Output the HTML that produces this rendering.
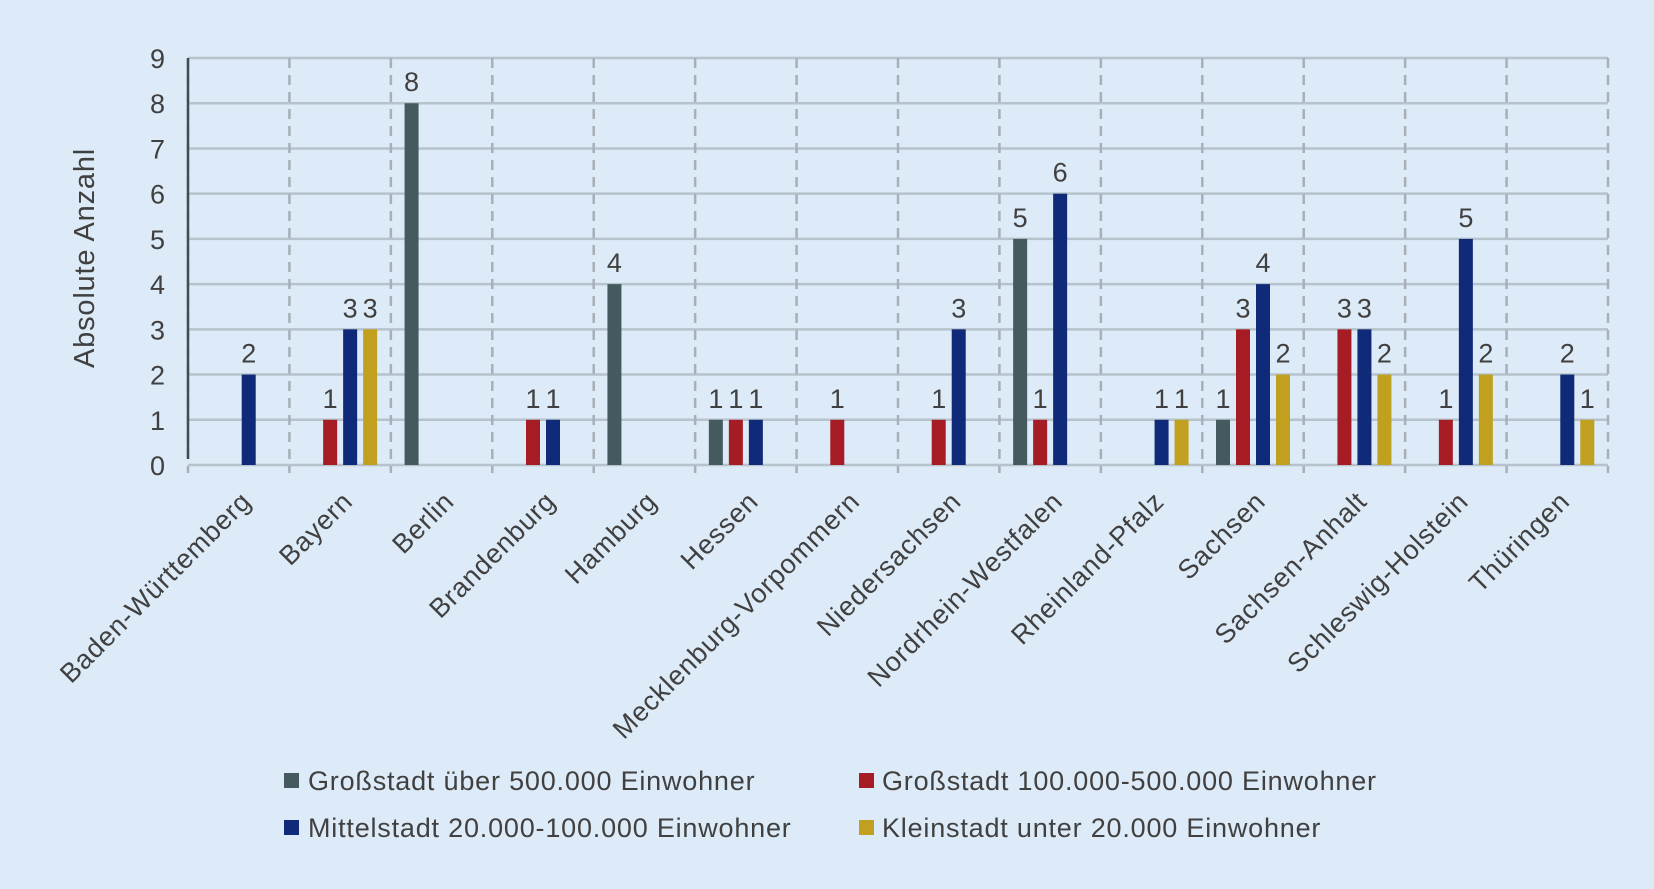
<!DOCTYPE html>
<html><head><meta charset="utf-8"><style>
html,body{margin:0;padding:0;background:#ddeaf7;}
svg{display:block;font-family:"Liberation Sans",sans-serif;}
</style></head><body>
<svg id="chart" width="1654" height="889" viewBox="0 0 1654 889" xmlns="http://www.w3.org/2000/svg">
<rect width="1654" height="889" fill="#ddeaf7"/>
<g id="grid"></g><g id="bars"></g><g id="labels"></g>
<text transform="translate(94,258) rotate(-90)" text-anchor="middle" font-size="29" letter-spacing="0.8" fill="#404040">Absolute Anzahl</text>
<g font-size="27" letter-spacing="0.8" fill="#404040">
<rect x="284" y="773" width="15" height="15" fill="#455a5f"/>
<text x="308" y="790">Großstadt über 500.000 Einwohner</text>
<rect x="859" y="773" width="15" height="15" fill="#a51c24"/>
<text x="882" y="790">Großstadt 100.000-500.000 Einwohner</text>
<rect x="284" y="820" width="15" height="15" fill="#0f2a78"/>
<text x="308" y="837">Mittelstadt 20.000-100.000 Einwohner</text>
<rect x="859" y="820" width="15" height="15" fill="#c0a01e"/>
<text x="882" y="837">Kleinstadt unter 20.000 Einwohner</text>
</g>
</svg>
<script>
const categories=["Baden-Württemberg","Bayern","Berlin","Brandenburg","Hamburg","Hessen","Mecklenburg-Vorpommern","Niedersachsen","Nordrhein-Westfalen","Rheinland-Pfalz","Sachsen","Sachsen-Anhalt","Schleswig-Holstein","Thüringen"];
const grossstadt500=[0,0,8,0,4,1,0,0,5,0,1,0,0,0];
const grossstadt100=[0,1,0,1,0,1,1,1,1,0,3,3,1,0];
const mittelstadt=[2,3,0,1,0,1,0,3,6,1,4,3,5,2];
const kleinstadt=[0,3,0,0,0,0,0,0,0,1,2,2,2,1];
const yTicks=[0,1,2,3,4,5,6,7,8,9];
const seriesNames=["grossstadt-500k","grossstadt-100k","mittelstadt","kleinstadt"];
const colors=["#455a5f","#a51c24","#0f2a78","#c0a01e"];
const NS="http://www.w3.org/2000/svg";
const L=188,R=1608,Y0=465,Y9=58,yMax=9;
const bw=(R-L)/categories.length;
function y(v){return Y0-(Y0-Y9)*v/yMax;}
function xc(i){return L+bw*(i+0.5);}
function mk(t,a,p){const e=document.createElementNS(NS,t);for(const k in a)e.setAttribute(k,a[k]);p.appendChild(e);return e;}
const grid=document.getElementById('grid'),bars=document.getElementById('bars'),labels=document.getElementById('labels');
yTicks.forEach(v=>{
  const g=mk('line',{x1:L,x2:R,y1:y(v),y2:y(v),stroke:'#b6c3cc','stroke-width':2.5},grid);
  
  
  const t=mk('text',{x:165,y:y(v)+10,'text-anchor':'end','font-size':27,fill:'#404040'},labels);
  t.textContent=v;
  
  
});
for(let i=0;i<=categories.length;i++){
  const x=L+bw*i;
  const d=mk('line',{x1:x,x2:x,y1:Y9,y2:Y0+8,stroke:'#a7b0b8','stroke-width':2.5,'stroke-dasharray':'10,7'},grid);
  
  
}
const ax=mk('line',{x1:L,x2:L,y1:Y9,y2:Y0-6,stroke:'#3d4f55','stroke-width':2.5},grid);


const series=[grossstadt500,grossstadt100,mittelstadt,kleinstadt];
categories.forEach((c,i)=>{
  series.forEach((s,j)=>{
    const v=s[i]; if(!v) return;
    const cx=xc(i)+(j-1.5)*20;
    const r=mk('rect',{x:cx-7,y:y(v),width:14,height:Y0-y(v),fill:colors[j]},bars);
    
    
    const t=mk('text',{x:cx,y:y(v)-12,'text-anchor':'middle','font-size':27,fill:'#404040'},labels);
    t.textContent=v;
    
    
  });
  const t=mk('text',{transform:`translate(${xc(i)+14},503) rotate(-45)`,'text-anchor':'end','font-size':27,'letter-spacing':0.8,fill:'#404040'},labels);
  t.textContent=c;
  
  
});
</script>
</body></html>
